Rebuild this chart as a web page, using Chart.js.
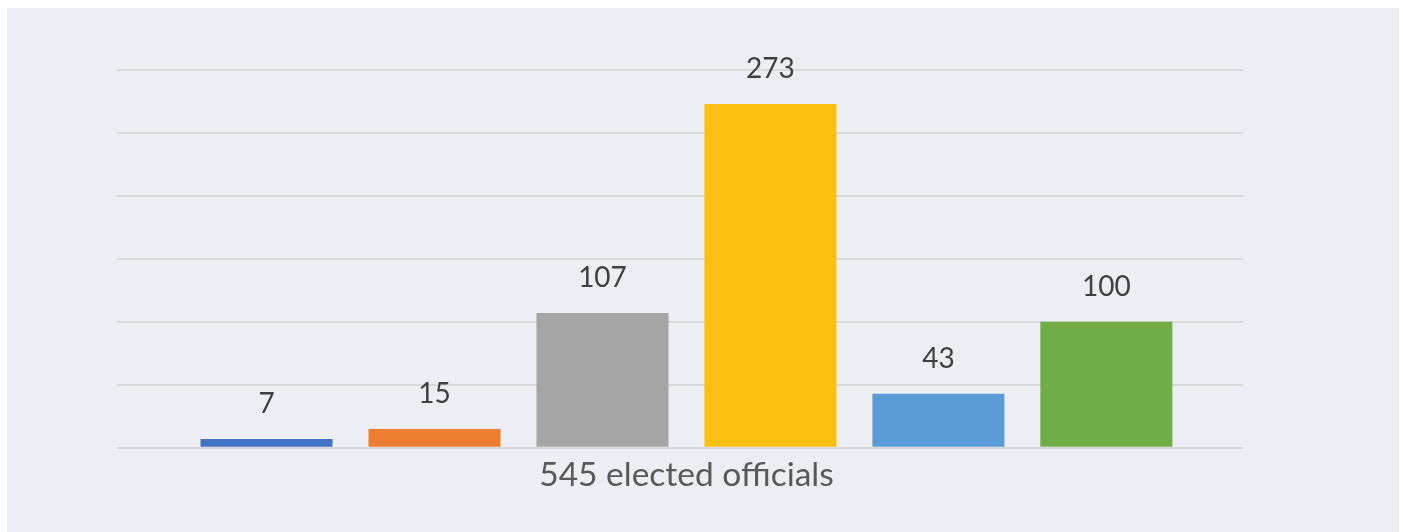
<!DOCTYPE html>
<html>
<head>
<meta charset="utf-8">
<script src="https://cdn.jsdelivr.net/npm/chart.js@4"></script>
<style>
  html, body { margin: 0; padding: 0; background: #ffffff; }
  #wrap { position: absolute; left: 7px; top: 8px; width: 1392px; height: 524px; background: #EDEEF3; }
  canvas { display: block; }
</style>
</head>
<body>
<div id="wrap"><canvas id="c" width="1392" height="524"></canvas></div>
<script>
const categories = ["545 elected officials"];
const seriesNames = ["Series 1", "Series 2", "Series 3", "Series 4", "Series 5", "Series 6"];
const seriesValues = [7, 15, 107, 273, 43, 100];
const seriesColors = ["#4472C4", "#ED7D31", "#A5A5A5", "#FBC012", "#5B9BD5", "#70AD47"];
const yTicks = [0, 50, 100, 150, 200, 250, 300];

const datasets = seriesValues.map((v, i) => ({
  label: seriesNames[i],
  data: [{ x: 0, y: v }],
  backgroundColor: seriesColors[i],
  borderWidth: 0,
  categoryPercentage: 0.895,
  barPercentage: 0.786
}));

const valueLabels = {
  id: 'valueLabels',
  afterDatasetsDraw(chart) {
    const ctx = chart.ctx;
    ctx.save();
    ctx.font = '28px Lato, "Open Sans", sans-serif';
    ctx.fillStyle = '#404040';
    ctx.textAlign = 'center';
    ctx.textBaseline = 'middle';
    chart.data.datasets.forEach((ds, i) => {
      const meta = chart.getDatasetMeta(i);
      meta.data.forEach((bar, j) => {
        ctx.fillText(String(ds.data[j].y), bar.x, bar.y - 35);
      });
    });
    ctx.restore();
  }
};

new Chart(document.getElementById('c'), {
  type: 'bar',
  data: { datasets },
  options: {
    responsive: false,
    animation: false,
    devicePixelRatio: 1,
    layout: { padding: { left: 110, right: 156, top: 62, bottom: 30 } },
    plugins: { legend: { display: false }, tooltip: { enabled: false } },
    scales: {
      x: {
        type: 'linear',
        min: -0.5115,
        max: 0.4885,
        afterBuildTicks(axis) { axis.ticks = [{ value: 0 }]; },
        grid: { display: false, drawTicks: false },
        border: { display: false },
        ticks: {
          color: '#595959',
          font: { family: 'Lato, "Open Sans", sans-serif', size: 33.5 },
          padding: 7,
          callback: (v) => categories[v] ?? ''
        }
      },
      y: {
        min: yTicks[0],
        max: yTicks[yTicks.length - 1],
        afterBuildTicks(axis) { axis.ticks = yTicks.map(v => ({ value: v })); },
        grid: { color: '#D9D9D9', lineWidth: 2, drawTicks: false },
        border: { display: false },
        ticks: { display: false }
      }
    }
  },
  plugins: [valueLabels]
});
</script>
</body>
</html>
